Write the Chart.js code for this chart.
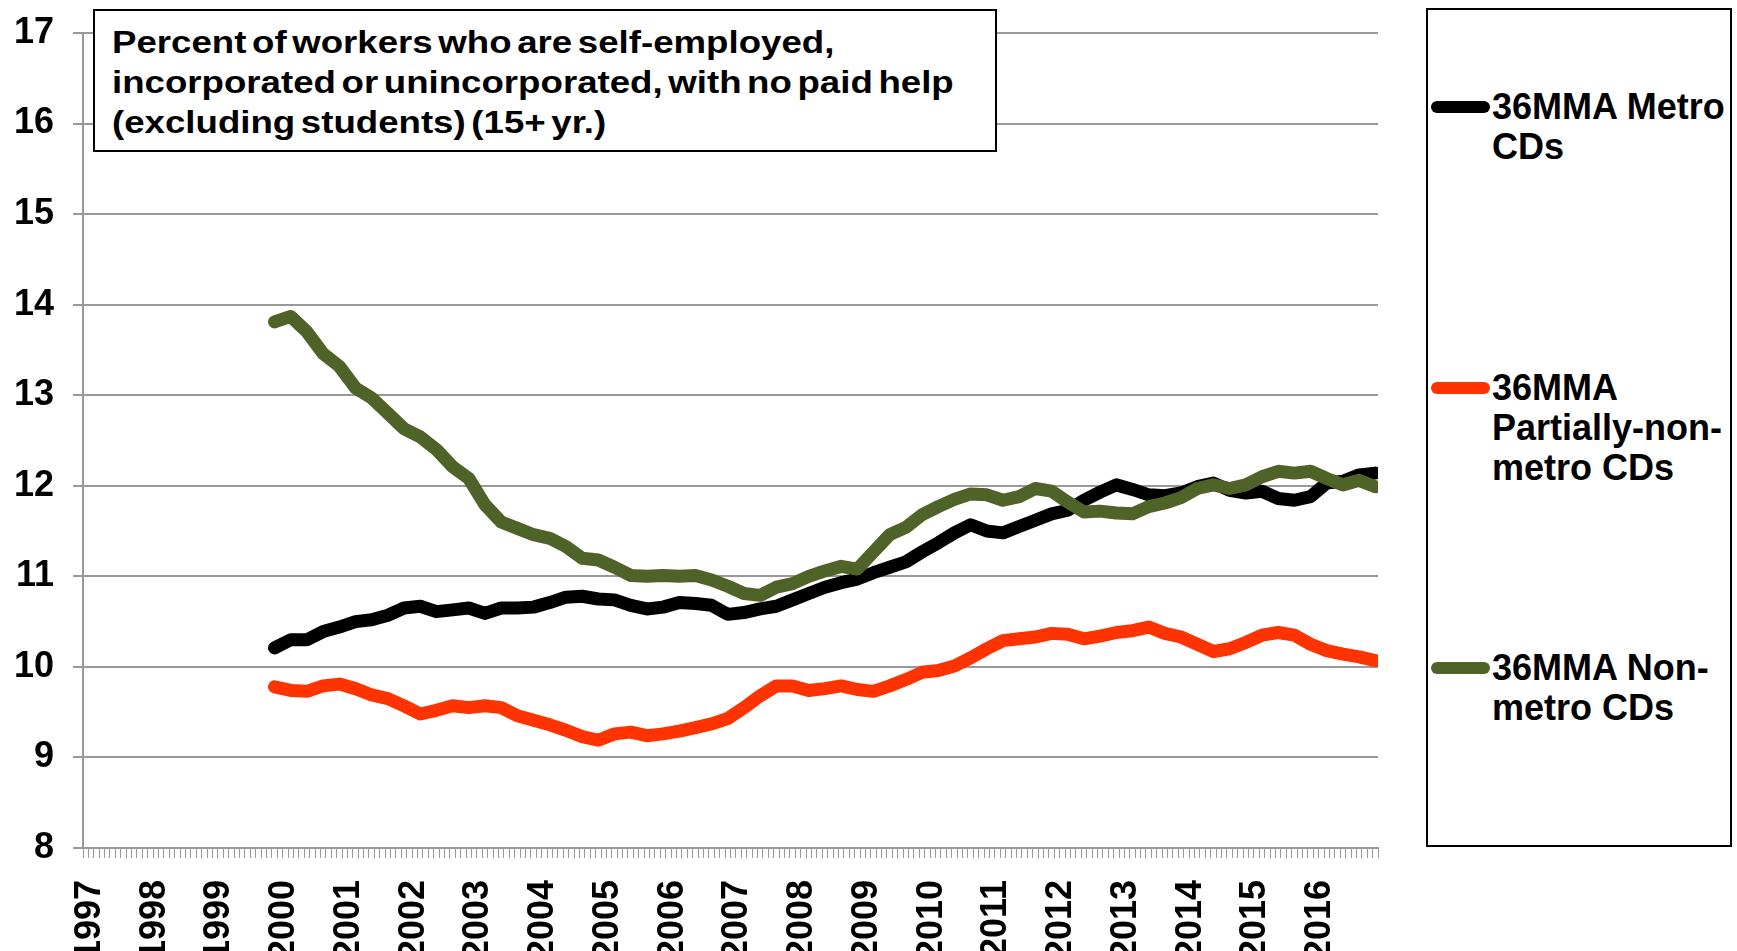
<!DOCTYPE html>
<html>
<head>
<meta charset="utf-8">
<script src="https://cdn.jsdelivr.net/npm/chart.js@4.4.0/dist/chart.umd.min.js"></script>
<style>
  body { margin: 0; background: #fff; font-family: "Liberation Sans", Arial, sans-serif; }
  #wrap { position: relative; width: 1737px; height: 951px; overflow: hidden; }
  #chart { position: absolute; left: 0; top: 0; }
  #title { position: absolute; left: 93px; top: 9px; width: 900px; height: 139px;
           border: 2px solid #000; background: #fff; }
  #title .txt { position: absolute; left: 17px; top: 11px; font-size: 32px; font-weight: bold;
                line-height: 40px; white-space: nowrap; word-spacing: -4px;
                transform: scaleX(1.145); transform-origin: 0 0; }
  #legend { position: absolute; left: 1426px; top: 8px; width: 302px; height: 835px;
            border: 2px solid #000; background: #fff; }
  #legend .item { position: absolute; left: 0; width: 302px; }
  #legend .swatch { position: absolute; left: 3px; top: 14px; width: 59px; height: 12px; border-radius: 6px; }
  #legend .label { margin-left: 64px; width: 238px; font-size: 36px; font-weight: bold;
                   line-height: 40px; }
</style>
</head>
<body>
<div id="wrap">
  <canvas id="chart" width="1737" height="951"></canvas>
  <div id="title"><div class="txt"></div></div>
  <div id="legend"></div>
</div>
<script>
// axis labels
var years = ['1997','1998','1999','2000','2001','2002','2003','2004','2005','2006',
             '2007','2008','2009','2010','2011','2012','2013','2014','2015','2016'];
var titleLines = ['Percent of workers who are self-employed,',
                  'incorporated or unincorporated, with no paid help',
                  '(excluding students) (15+ yr.)'];

// 36-month moving averages, every 3 months
var sampleDates = ['1999-12',
  '2000-03','2000-06','2000-09','2000-12','2001-03','2001-06','2001-09','2001-12',
  '2002-03','2002-06','2002-09','2002-12','2003-03','2003-06','2003-09','2003-12',
  '2004-03','2004-06','2004-09','2004-12','2005-03','2005-06','2005-09','2005-12',
  '2006-03','2006-06','2006-09','2006-12','2007-03','2007-06','2007-09','2007-12',
  '2008-03','2008-06','2008-09','2008-12','2009-03','2009-06','2009-09','2009-12',
  '2010-03','2010-06','2010-09','2010-12','2011-03','2011-06','2011-09','2011-12',
  '2012-03','2012-06','2012-09','2012-12','2013-03','2013-06','2013-09','2013-12',
  '2014-03','2014-06','2014-09','2014-12','2015-03','2015-06','2015-09','2015-12',
  '2016-03','2016-06','2016-09','2016-12'];

var metro = [10.21,
  10.30,10.30,10.39,10.44,10.50,10.52,10.57,10.65,
  10.67,10.61,10.63,10.65,10.59,10.65,10.65,10.66,
  10.71,10.77,10.78,10.75,10.74,10.68,10.64,10.66,
  10.71,10.70,10.68,10.58,10.60,10.64,10.67,10.74,
  10.81,10.88,10.93,10.97,11.04,11.10,11.16,11.27,
  11.37,11.48,11.57,11.50,11.48,11.55,11.62,11.69,
  11.73,11.84,11.93,12.01,11.96,11.90,11.89,11.92,
  11.99,12.03,11.95,11.92,11.94,11.86,11.84,11.88,
  12.03,12.05,12.12,12.14];

var partial = [9.78,
  9.74,9.73,9.79,9.81,9.76,9.69,9.65,9.57,
  9.48,9.52,9.57,9.55,9.57,9.55,9.46,9.41,
  9.36,9.30,9.23,9.19,9.26,9.28,9.24,9.26,
  9.29,9.33,9.37,9.43,9.55,9.68,9.79,9.79,
  9.74,9.76,9.79,9.75,9.73,9.79,9.86,9.94,
  9.96,10.01,10.10,10.20,10.29,10.31,10.33,10.37,
  10.36,10.31,10.34,10.38,10.40,10.44,10.37,10.33,
  10.25,10.17,10.20,10.27,10.35,10.38,10.35,10.25,
  10.18,10.14,10.11,10.07];

var nonmetro = [13.81,
  13.87,13.70,13.46,13.32,13.08,12.97,12.80,12.63,
  12.54,12.40,12.21,12.08,11.79,11.60,11.53,11.46,
  11.42,11.33,11.20,11.18,11.10,11.01,11.00,11.01,
  11.00,11.01,10.96,10.89,10.81,10.79,10.88,10.92,
  11.00,11.06,11.11,11.08,11.27,11.46,11.54,11.68,
  11.77,11.85,11.91,11.90,11.84,11.88,11.97,11.94,
  11.82,11.71,11.72,11.70,11.69,11.77,11.81,11.87,
  11.97,12.01,11.97,12.01,12.10,12.16,12.14,12.16,
  12.08,12.01,12.06,11.99];

// month index from Jan 1997, centred in its month slot
function monthPos(d) {
  var p = d.split('-');
  return (parseInt(p[0], 10) - 1997) * 12 + parseInt(p[1], 10) - 1 + 0.5;
}
function points(vals) {
  return vals.map(function (v, i) { return { x: monthPos(sampleDates[i]), y: v }; });
}

var font = { family: 'Liberation Sans', size: 36, weight: 'bold' };
var gray = '#999999';

// keep the plot box fixed: no extra room for overhanging labels
function noPad(s) {
  s.paddingTop = 0; s.paddingBottom = 0; s.paddingLeft = 0; s.paddingRight = 0;
}

var ctx = document.getElementById('chart').getContext('2d');
var chart = new Chart(ctx, {
  type: 'line',
  data: {
    datasets: [
      { label: '36MMA Metro CDs', data: points(metro), borderColor: '#000000', order: 3 },
      { label: '36MMA Partially-non-metro CDs', data: points(partial), borderColor: '#FF3300', order: 2 },
      { label: '36MMA Non-metro CDs', data: points(nonmetro), borderColor: '#4F6228', order: 1 }
    ]
  },
  options: {
    responsive: false,
    animation: false,
    layout: { padding: { left: 0, top: 33, right: 359, bottom: 0 } },
    elements: {
      line: { borderWidth: 13, tension: 0, borderCapStyle: 'round', borderJoinStyle: 'round' },
      point: { radius: 0 }
    },
    plugins: { legend: { display: false }, tooltip: { enabled: false } },
    scales: {
      x: {
        type: 'linear',
        min: 0,
        max: years.length * 12,
        afterFit: function (s) { s.height = 103; noPad(s); },
        border: { color: gray, width: 2 },
        grid: { drawOnChartArea: false, drawTicks: true, tickLength: 10, tickColor: gray, lineWidth: 1 },
        ticks: {
          stepSize: 1,
          maxTicksLimit: 400,
          autoSkip: false,
          minRotation: 90,
          maxRotation: 90,
          padding: 22,
          labelOffset: 7,
          color: '#000',
          font: font,
          callback: function (v) {
            var m = Math.round(v);
            return (m % 12 === 0 && m / 12 < years.length) ? years[m / 12] : '';
          }
        }
      },
      y: {
        min: 8,
        max: 17,
        afterFit: function (s) { s.width = 83; noPad(s); },
        border: { color: gray, width: 2 },
        grid: { color: gray, lineWidth: 2, tickLength: 10 },
        ticks: { stepSize: 1, padding: 19, color: '#000', font: font }
      }
    }
  }
});

document.querySelector('#title .txt').innerHTML = titleLines.join('<br>');

// legend built from the chart's datasets
var legend = document.getElementById('legend');
chart.data.datasets.forEach(function (ds, i) {
  var item = document.createElement('div');
  item.className = 'item';
  item.style.top = (77 + i * 280.5) + 'px';
  item.innerHTML = '<span class="swatch" style="background:' + ds.borderColor + '"></span>' +
                   '<div class="label">' + ds.label + '</div>';
  legend.appendChild(item);
});
</script>
</body>
</html>
